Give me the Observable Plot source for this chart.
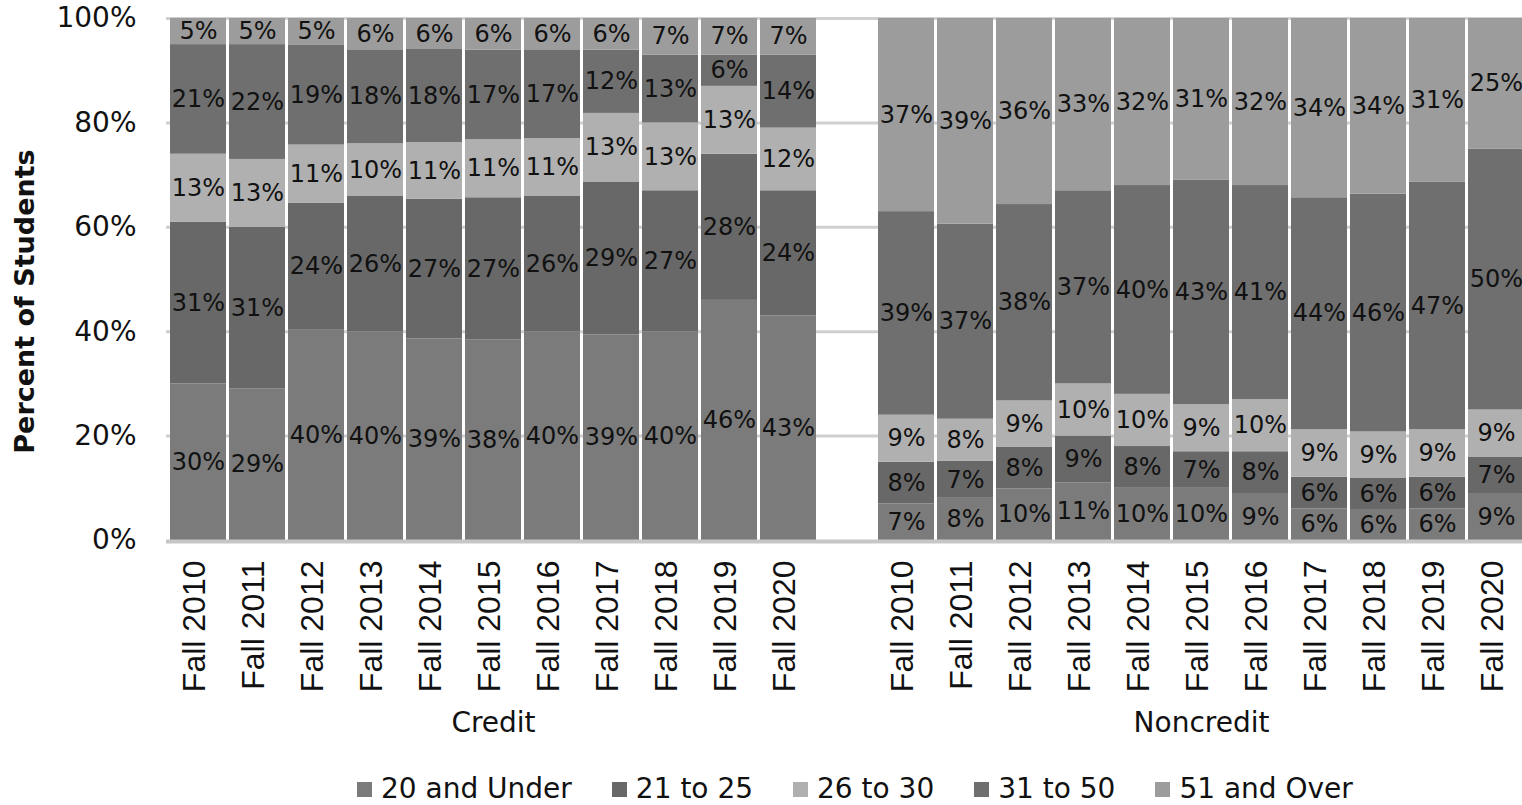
<!DOCTYPE html>
<html><head><meta charset="utf-8">
<script src="https://cdn.jsdelivr.net/npm/d3@7"></script>
<script src="https://cdn.jsdelivr.net/npm/@observablehq/plot@0.6"></script>
<style>
html,body{margin:0;padding:0;background:#fff;overflow:hidden;font-family:"DejaVu Sans",Verdana,sans-serif;}
#wrap{position:relative;width:1522px;height:805px;overflow:hidden;}
#chart svg{display:block;}
#legend{position:absolute;top:775px;left:357px;display:flex;align-items:center;font-size:28px;line-height:28px;color:#111;white-space:nowrap;}
.item{display:flex;align-items:center;margin-right:40px;}
.sw{width:15px;height:15px;margin-right:9px;}
</style></head><body>
<div id="wrap"><div id="chart"></div><div id="legend"></div></div>
<script>
// ---- data ----
const years = ["Fall 2010","Fall 2011","Fall 2012","Fall 2013","Fall 2014","Fall 2015","Fall 2016","Fall 2017","Fall 2018","Fall 2019","Fall 2020"];
const groups = ["Credit","Noncredit"];
const ageBands = ["20 and Under","21 to 25","26 to 30","31 to 50","51 and Over"];
const bandColors = ["#7b7b7b","#686868","#b0b0b0","#6f6f6f","#9c9c9c"];
const yTicks = [0, 0.2, 0.4, 0.6, 0.8, 1];

const credit20Under = [30,29,40,40,39,38,40,39,40,46,43];
const credit21to25  = [31,31,24,26,27,27,26,29,27,28,24];
const credit26to30  = [13,13,11,10,11,11,11,13,13,13,12];
const credit31to50  = [21,22,19,18,18,17,17,12,13,6,14];
const credit51Over  = [5,5,5,6,6,6,6,6,7,7,7];

const noncredit20Under = [7,8,10,11,10,10,9,6,6,6,9];
const noncredit21to25  = [8,7,8,9,8,7,8,6,6,6,7];
const noncredit26to30  = [9,8,9,10,10,9,10,9,9,9,9];
const noncredit31to50  = [39,37,38,37,40,43,41,44,46,47,50];
const noncredit51Over  = [37,39,36,33,32,31,32,34,34,31,25];

// ---- table ----
const seriesByGroup = {
  Credit: [credit20Under, credit21to25, credit26to30, credit31to50, credit51Over],
  Noncredit: [noncredit20Under, noncredit21to25, noncredit26to30, noncredit31to50, noncredit51Over]
};
const rows = [];
for (const g of groups) {
  years.forEach((yr, i) => {
    ageBands.forEach((b, j) => {
      rows.push({key: g + "|" + yr, group: g, year: yr, band: b, value: seriesByGroup[g][j][i]});
    });
  });
}
const xDomain = [...years.map(y => "Credit|" + y), "gap", ...years.map(y => "Noncredit|" + y)];

const stackOpts = {offset: "normalize", order: ageBands};

const chart = Plot.plot({
  width: 1522,
  height: 752,
  marginTop: 18,
  marginBottom: 212,
  marginLeft: 166,
  marginRight: 0,
  style: {fontFamily: "'DejaVu Sans', Verdana, sans-serif", background: "#fff", overflow: "hidden"},
  x: {domain: xDomain, range: [166, 1528], paddingInner: 0.05, paddingOuter: 0},
  y: {domain: [0, 1]},
  color: {domain: ageBands, range: bandColors},
  marks: [
    Plot.ruleY(yTicks.slice(1), {stroke: "#d0d0d0", strokeWidth: 3}),
    Plot.barY(rows, Plot.stackY(stackOpts, {x: "key", y: "value", z: "band", fill: "band"})),
    Plot.ruleY([0], {stroke: "#c6c6c6", strokeWidth: 4, dy: 1}),
    Plot.text(rows, Plot.stackY(stackOpts, {x: "key", y: "value", z: "band", text: d => d.value + "%", fontSize: 24, fill: "#111"})),
    Plot.axisY({ticks: yTicks, tickFormat: d => Math.round(d * 100) + "%", tickSize: 0, tickPadding: 30, fontSize: 28, label: null, fill: "#111"}),
    Plot.axisX({tickRotate: -90, tickSize: 0, tickPadding: 20, dx: -4, fontSize: 32, fontFamily: "'Liberation Sans', Arial, sans-serif", label: null, fill: "#111",
      tickFormat: k => k === "gap" ? "" : k.split("|")[1]}),
    Plot.text(groups, {x: g => g + "|Fall 2015", text: d => d, frameAnchor: "bottom", dy: 191, fontSize: 28, fill: "#111"}),
    Plot.text(["Percent of Students"], {frameAnchor: "left", textAnchor: "middle", dx: -141, dy: 22, rotate: -90, text: d => d, fontSize: 27, fontWeight: "bold", fill: "#111"})
  ]
});
document.getElementById("chart").appendChild(chart);

const legend = document.getElementById("legend");
ageBands.forEach((b, i) => {
  const item = document.createElement("div");
  item.className = "item";
  const sw = document.createElement("span");
  sw.className = "sw";
  sw.style.background = bandColors[i];
  const t = document.createElement("span");
  t.textContent = b;
  item.appendChild(sw); item.appendChild(t);
  legend.appendChild(item);
});
</script>
</body></html>
